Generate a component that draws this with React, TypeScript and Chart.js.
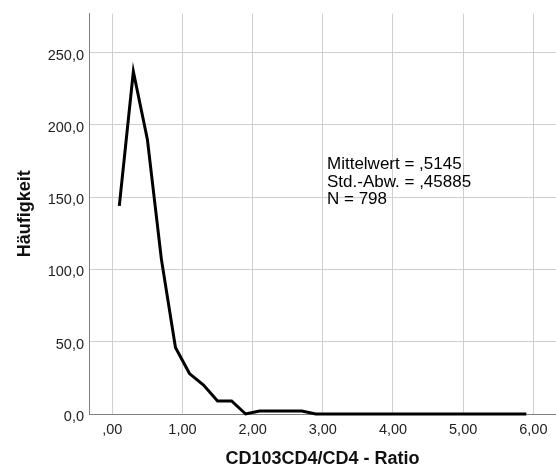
import React, { useEffect, useRef } from "react";
import { Chart, registerables } from "chart.js";

Chart.register(...registerables);

// Bin midpoints of the frequency polygon (bin width 0,2)
const binMidpoints = [
  0.1, 0.3, 0.5, 0.7, 0.9, 1.1, 1.3, 1.5, 1.7, 1.9,
  2.1, 2.3, 2.5, 2.7, 2.9, 3.1, 3.3, 3.5, 3.7, 3.9,
  4.1, 4.3, 4.5, 4.7, 4.9, 5.1, 5.3, 5.5, 5.7, 5.9,
];
// Frequencies (Häufigkeit) per bin
const frequencies = [
  144, 237, 190, 107, 46, 28, 20, 9, 9, 0,
  2, 2, 2, 2, 0, 0, 0, 0, 0, 0,
  0, 0, 0, 0, 0, 0, 0, 0, 0, 0,
];

const xTickValues = [0, 1, 2, 3, 4, 5, 6];
const xTickLabels = [",00", "1,00", "2,00", "3,00", "4,00", "5,00", "6,00"];
const yTickValues = [0, 50, 100, 150, 200, 250];
const yTickLabels = ["0,0", "50,0", "100,0", "150,0", "200,0", "250,0"];

const statsLines = ["Mittelwert = ,5145", "Std.-Abw. = ,45885", "N = 798"];
const xTitle = "CD103CD4/CD4 - Ratio";
const yTitle = "Häufigkeit";

const FONT = '"Liberation Sans", Arial, Helvetica, sans-serif';

const statsPlugin = {
  id: "statsText",
  afterDatasetsDraw(chart: any) {
    const ctx = chart.ctx;
    ctx.save();
    ctx.font = `17px ${FONT}`;
    ctx.fillStyle = "#000";
    ctx.textAlign = "left";
    ctx.textBaseline = "alphabetic";
    statsLines.forEach((t, i) => ctx.fillText(t, 327, 169 + i * 17.5));
    ctx.restore();
  },
};

export default function App() {
  const canvasRef = useRef<HTMLCanvasElement | null>(null);

  useEffect(() => {
    if (!canvasRef.current) return;
    const points = binMidpoints.map((x, i) => ({ x, y: frequencies[i] }));
    const chart = new Chart(canvasRef.current, {
      type: "line",
      data: {
        datasets: [
          {
            data: points,
            borderColor: "#000",
            borderWidth: 3,
            pointRadius: 0,
            tension: 0,
            fill: false,
            clip: false,
          } as any,
        ],
      },
      options: {
        animation: false,
        responsive: false,
        maintainAspectRatio: false,
        devicePixelRatio: 1,
        layout: { padding: { top: 12, left: 0, right: 0, bottom: 0 } },
        plugins: {
          legend: { display: false },
          tooltip: { enabled: false },
        },
        scales: {
          x: {
            type: "linear",
            min: -0.332,
            max: 6.323,
            afterBuildTicks: (s: any) => {
              s.ticks = xTickValues.map((v) => ({ value: v }));
            },
            afterFit: (s: any) => {
              s.height = 58;
            },
            ticks: {
              callback: (_v: any, i: number) => xTickLabels[i],
              font: { family: FONT, size: 14.5 },
              color: "#222",
              padding: 7,
              maxRotation: 0,
              autoSkip: false,
            },
            grid: { color: "#cfcfcf", lineWidth: 1, drawTicks: false },
            border: { display: true, color: "#808080", width: 1 },
            title: {
              display: true,
              text: xTitle,
              font: { family: FONT, size: 18, weight: "bold" },
              color: "#111",
              padding: { top: 0, bottom: 2 },
            },
          },
          y: {
            type: "linear",
            min: 0,
            max: 277,
            afterBuildTicks: (s: any) => {
              s.ticks = yTickValues.map((v) => ({ value: v }));
            },
            afterFit: (s: any) => {
              s.width = 89;
            },
            ticks: {
              callback: (_v: any, i: number) => yTickLabels[i],
              font: { family: FONT, size: 14.5 },
              color: "#222",
              padding: 5,
              labelOffset: 3,
              autoSkip: false,
            },
            grid: { color: "#cfcfcf", lineWidth: 1, drawTicks: false },
            border: { display: true, color: "#808080", width: 1 },
            title: {
              display: true,
              text: yTitle,
              font: { family: FONT, size: 18, weight: "bold" },
              color: "#111",
              padding: { top: 14, bottom: 0 },
            },
          },
        },
      } as any,
      plugins: [statsPlugin],
    });
    return () => chart.destroy();
  }, []);

  return (
    <div style={{ position: "absolute", left: 0, top: 0, width: 556, height: 472, background: "#fff" }}>
      <canvas ref={canvasRef} width={556} height={472} style={{ display: "block" }} />
    </div>
  );
}
